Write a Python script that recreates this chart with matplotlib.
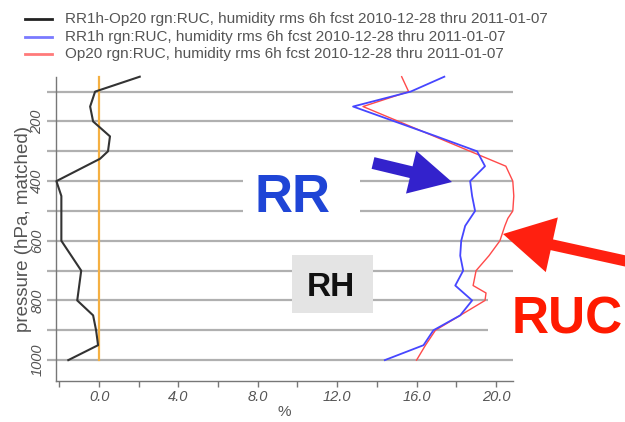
import matplotlib
matplotlib.use("Agg")
import matplotlib.pyplot as plt
from matplotlib.patches import Rectangle, FancyArrow
from matplotlib.lines import Line2D
from matplotlib.ticker import FixedLocator, FuncFormatter

plt.rcParams['font.family'] = ['Liberation Sans', 'DejaVu Sans']

# ---- data ----
diff_p = [50, 100, 150, 200, 250, 300, 325, 400, 450, 500, 550, 600, 700, 800, 850, 900, 950, 1000]
diff_x = [2.05, -0.2, -0.45, -0.3, 0.55, 0.45, 0.05, -2.15, -1.9, -1.9, -1.9, -1.9, -0.9, -1.1, -0.3, -0.15, -0.05, -1.55]

rr_p = [50, 100, 150, 200, 250, 300, 350, 400, 450, 500, 550, 600, 650, 700, 750, 800, 850, 900, 950, 1000]
rr_x = [17.4, 15.7, 12.8, 14.9, 17.0, 19.05, 19.45, 18.7, 18.8, 18.95, 18.45, 18.25, 18.2, 18.35, 17.95, 18.8, 18.2, 16.85, 16.35, 14.4]

op_p = [50, 100, 150, 200, 250, 300, 325, 350, 400, 450, 500, 525, 550, 600, 650, 700, 750, 775, 800, 850, 900, 950, 1000]
op_x = [15.25, 15.6, 13.3, 15.1, 16.9, 18.7, 19.6, 20.5, 20.85, 20.9, 20.85, 20.6, 20.45, 20.2, 19.65, 19.0, 18.85, 19.5, 19.45, 18.2, 16.95, 16.45, 16.0]

zero_p = [50, 1000]
zero_x = [0, 0]

legend_labels = [
    "RR1h-Op20 rgn:RUC, humidity rms 6h fcst 2010-12-28 thru 2011-01-07",
    "RR1h rgn:RUC, humidity rms 6h fcst 2010-12-28 thru 2011-01-07",
    "Op20 rgn:RUC, humidity rms 6h fcst 2010-12-28 thru 2011-01-07",
]
legend_colors = ['#222222', '#7a7aff', '#ff7a7a']

x_ticks = list(range(-2, 21, 2))
y_ticks = list(range(100, 1001, 100))

W, H = 625, 422
fig = plt.figure(figsize=(W / 100, H / 100), dpi=100)
fig.patch.set_facecolor('white')

def P(x, y):
    return (x / 100.0, (H - y) / 100.0)

ax = fig.add_axes([56 / W, 1 - 381 / H, (513 - 56) / W, (381 - 76.7) / H])
ax.set_xlim(-2.17, 20.86)
ax.set_ylim(1070, 50)

grid_c = '#b0b0b0'
ax.grid(axis='y', color=grid_c, lw=1.6)
ax.set_axisbelow(True)

ax.plot(zero_x, zero_p, color='#f5b042', lw=1.6, zorder=2, clip_on=False)
ax.plot(diff_x, diff_p, color='#333333', lw=1.5, zorder=3, clip_on=False)
ax.plot(op_x, op_p, color='#ff4a4a', lw=1.0, zorder=3, clip_on=False)
ax.plot(rr_x, rr_p, color='#4646ff', lw=1.3, zorder=4, clip_on=False)

for s in ['top', 'right']:
    ax.spines[s].set_visible(False)
for s in ['left', 'bottom']:
    ax.spines[s].set_color('#777777')
    ax.spines[s].set_linewidth(1.0)

ax.xaxis.set_major_locator(FixedLocator(x_ticks))
ax.xaxis.set_major_formatter(FuncFormatter(lambda v, pos: ("%.1f" % v) if abs(v % 4) < 1e-9 else ""))
ax.yaxis.set_major_locator(FixedLocator(y_ticks))
ax.yaxis.set_major_formatter(FuncFormatter(lambda v, pos: ("%d" % v) if int(round(v)) % 200 == 0 else ""))

ax.tick_params(axis='x', length=4.5, width=1.0, color='#777777', pad=2,
               labelsize=10.5, labelcolor='#555555')
ax.tick_params(axis='y', length=6.5, width=1.6, color=grid_c, pad=2,
               labelsize=10.5, labelcolor='#555555', labelrotation=90)
for lab in ax.get_xticklabels():
    lab.set_fontstyle('italic')
for lab in ax.get_yticklabels():
    lab.set_fontstyle('italic')
    lab.set_va('center')

ax.set_xlabel('%', fontsize=11, color='#555555', labelpad=1)
ax.set_ylabel('pressure (hPa, matched)', fontsize=13.5, color='#555555', labelpad=-1)

# ---- legend (top) ----
rows_y = [19, 37, 54]
for lab, col, yy in zip(legend_labels, legend_colors, rows_y):
    (x0, y0) = P(25, yy)
    (x1, _) = P(52, yy)
    fig.add_artist(Line2D([x0, x1], [y0, y0], color=col, lw=2.0, transform=fig.dpi_scale_trans))
    tx, ty = P(65, yy)
    fig.text(tx, ty, lab, transform=fig.dpi_scale_trans, fontsize=11, color='#555555', va='center', ha='left')

# ---- overlay annotations ----
def rect(x0, y0, x1, y1, color, z):
    ax0, ay1 = P(x0, y1)
    r = Rectangle((ax0, ay1), (x1 - x0) / 100.0, (y1 - y0) / 100.0, facecolor=color,
                  edgecolor='none', transform=fig.dpi_scale_trans, zorder=z)
    fig.add_artist(r)

rect(243, 168, 360, 228, 'white', 5)
rect(488, 288, 625, 346, 'white', 5)
rect(292, 255, 373, 313, '#e4e4e4', 5)

tx, ty = P(292, 198)
fig.text(tx, ty, 'RR', transform=fig.dpi_scale_trans, fontsize=38, fontweight='bold',
         color='#1f45d6', ha='center', va='center', zorder=6)
tx, ty = P(331, 288)
fig.text(tx, ty, 'RH', transform=fig.dpi_scale_trans, fontsize=24, fontweight='bold',
         color='#111111', ha='center', va='center', zorder=6)
tx, ty = P(567, 320)
fig.text(tx, ty, 'RUC', transform=fig.dpi_scale_trans, fontsize=37, fontweight='bold',
         color='#ff1a00', ha='center', va='center', zorder=6)

def arrow(xt, yt, xh, yh, w, hw, hl, color):
    (ax0, ay0) = P(xt, yt)
    (ax1, ay1) = P(xh, yh)
    a = FancyArrow(ax0, ay0, ax1 - ax0, ay1 - ay0, width=w / 100.0, head_width=hw / 100.0,
                   head_length=hl / 100.0, length_includes_head=True, color=color,
                   transform=fig.dpi_scale_trans, zorder=7, lw=0)
    fig.add_artist(a)

arrow(373, 163, 452, 182, 12, 44, 42, '#3322cc')
arrow(630, 262, 503, 234, 11, 56, 50, '#ff2010')

fig.savefig('out.png', dpi=100)
